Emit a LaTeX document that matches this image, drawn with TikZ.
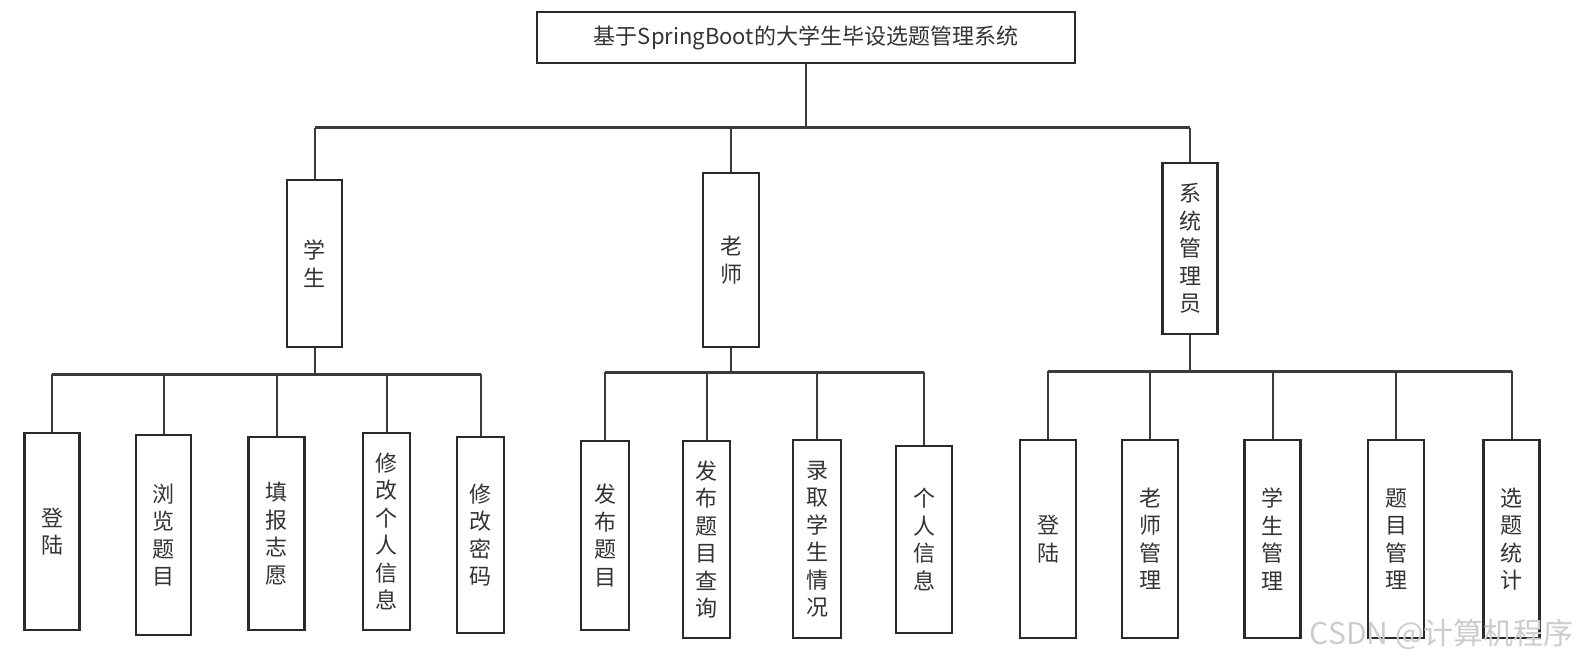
\documentclass[tikz,border=0pt]{standalone}
\usepackage{fontspec}
\setmainfont{Noto Sans CJK SC}
\usetikzlibrary{positioning}
\definecolor{boxline}{HTML}{262B30}
\definecolor{wire}{HTML}{3A3A3A}
\definecolor{txt}{HTML}{333333}

\begin{document}
\begin{tikzpicture}[x=1pt,y=-1pt,
  box/.style={draw=boxline, line width=2.6pt, fill=white, inner sep=0pt, align=center, text=txt, font=\fontsize{22}{27.5}\selectfont},
  leaf/.style={box, minimum width=55pt, minimum height=198pt},
  link/.style={draw=wire, line width=2pt},
  bus/.style={draw=wire, line width=3pt}]
\useasboundingbox (0,0) rectangle (1579,665);

% top and second level
\node[box, minimum width=538pt, minimum height=51pt, font=\fontsize{22}{25}\selectfont] (title) at (806,37.5) {基于SpringBoot的大学生毕设选题管理系统};
\node[box, minimum width=55pt, minimum height=167pt] (student) at (314.5,263.5) {学\\生};
\node[box, minimum width=56pt, minimum height=174pt] (teacher) at (731,260) {老\\师};
\node[box, minimum width=55pt, minimum height=171pt] (admin) at (1190,248.5) {系\\统\\管\\理\\员};

% student leaves
\node[leaf, minimum height=197pt] (s1) at (52,531.5) {登\\陆};
\node[leaf, minimum height=200pt] (s2) at (163.5,535) {浏\\览\\题\\目};
\node[leaf, minimum width=56pt, minimum height=193pt] (s3) at (276.5,533.5) {填\\报\\志\\愿};
\node[leaf, minimum width=47pt, minimum height=197pt] (s4) at (386.5,531.5) {修\\改\\个\\人\\信\\息};
\node[leaf, minimum width=47pt, minimum height=196pt] (s5) at (480.5,535) {修\\改\\密\\码};

% teacher leaves
\node[leaf, minimum width=48pt, minimum height=189pt] (t1) at (605,535.5) {发\\布\\题\\目};
\node[leaf, minimum width=47pt, minimum height=197pt] (t2) at (706.5,539.5) {发\\布\\题\\目\\查\\询};
\node[leaf, minimum width=48pt] (t3) at (817,539) {录\\取\\学\\生\\情\\况};
\node[leaf, minimum width=56pt, minimum height=187pt] (t4) at (924,539.5) {个\\人\\信\\息};

% admin leaves
\node[leaf, minimum width=56pt] (a1) at (1048,539) {登\\陆};
\node[leaf, minimum width=56pt] (a2) at (1150,539) {老\\师\\管\\理};
\node[leaf, minimum width=56pt] (a3) at (1272.5,539) {学\\生\\管\\理};
\node[leaf, minimum width=56pt] (a4) at (1396,539) {题\\目\\管\\理};
\node[leaf, minimum width=56pt] (a5) at (1511.5,539) {选\\题\\统\\计};

\coordinate (topbus) at (0,127.5);
\coordinate (sbus) at (0,374);
\coordinate (tbus) at (0,372);
\coordinate (abus) at (0,371);

% connectors
\draw[link] (title.south) -- (title.south |- topbus);
\draw[bus] (student.north |- topbus) -- (admin.north |- topbus);
\foreach \n in {student,teacher,admin}
  \draw[link] (\n.north) -- (\n.north |- topbus);

\draw[link] (student.south) -- (student.south |- sbus);
\draw[bus] (s1.north |- sbus) -- (s5.north |- sbus);
\foreach \n in {s1,s2,s3,s4,s5}
  \draw[link] (\n.north) -- (\n.north |- sbus);

\draw[link] (teacher.south) -- (teacher.south |- tbus);
\draw[bus] (t1.north |- tbus) -- (t4.north |- tbus);
\foreach \n in {t1,t2,t3,t4}
  \draw[link] (\n.north) -- (\n.north |- tbus);

\draw[link] (admin.south) -- (admin.south |- abus);
\draw[bus] (a1.north |- abus) -- (a5.north |- abus);
\foreach \n in {a1,a2,a3,a4,a5}
  \draw[link] (\n.north) -- (\n.north |- abus);

\node[anchor=east, text=gray!40, font=\fontsize{30}{30}\selectfont] (mark) at (1577,634) {CSDN @计算机程序};
\end{tikzpicture}
\end{document}
